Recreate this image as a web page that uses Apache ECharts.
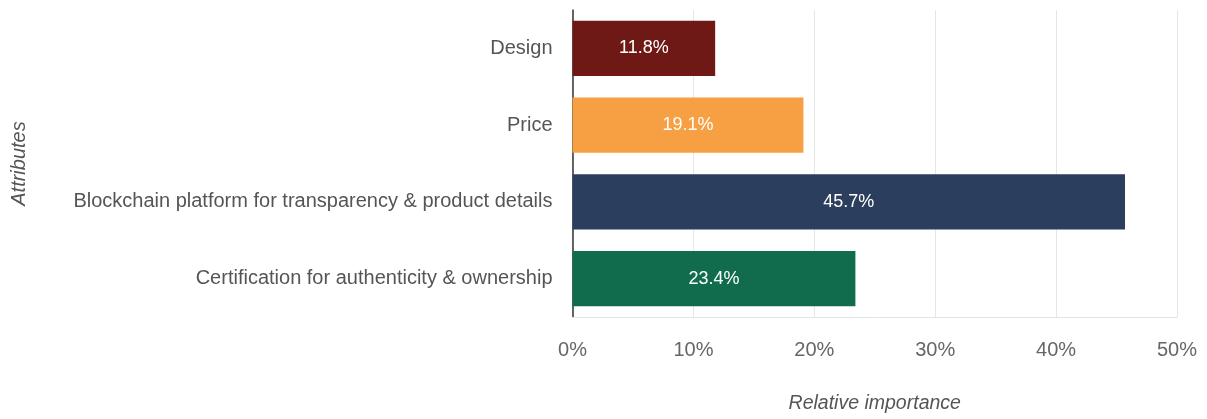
<!DOCTYPE html>
<html><head><meta charset="utf-8">
<script src="https://cdn.jsdelivr.net/npm/echarts@6/dist/echarts.min.js"></script>
<style>html,body{margin:0;padding:0;background:#fff}#c{width:1207px;height:419px}</style>
</head><body><div id="c"></div>
<script>
const categories = ["Design", "Price", "Blockchain platform for transparency & product details", "Certification for authenticity & ownership"];
const values = [11.8, 19.1, 45.7, 23.4];
const colors = ["#6e1916", "#f7a043", "#2c3e5d", "#106c4d"];
const xTicks = [0, 10, 20, 30, 40, 50];

const chart = echarts.init(document.getElementById('c'));
chart.setOption({
  animation: false,
  textStyle: { fontFamily: "Liberation Sans, Arial, sans-serif" },
  grid: { left: 572.5, right: 30, top: 10, bottom: 102, containLabel: false },
  xAxis: {
    type: 'value', min: xTicks[0], max: xTicks[xTicks.length - 1], interval: 10,
    name: 'Relative importance', nameLocation: 'middle', nameGap: 77,
    nameTextStyle: { fontStyle: 'italic', fontSize: 19.5, color: '#555' },
    axisLine: { show: true, lineStyle: { color: '#e3e3e3' } },
    axisTick: { show: false },
    axisLabel: { formatter: v => v + '%', fontSize: 20, color: '#666', margin: 23 },
    splitLine: { show: true, lineStyle: { color: '#e6e6e6' } }
  },
  yAxis: {
    type: 'category', data: categories, inverse: true,
    name: 'Attributes', nameLocation: 'middle', nameGap: 543,
    nameTextStyle: { fontStyle: 'italic', fontSize: 20, color: '#555' },
    axisLine: { show: true, lineStyle: { color: '#333', width: 1.5 } },
    axisTick: { show: false },
    axisLabel: { fontSize: 20, color: '#555', margin: 20 }
  },
  series: [{
    type: 'bar',
    data: values.map((v, i) => ({ value: v, itemStyle: { color: colors[i] } })),
    barCategoryGap: '28%',
    label: { show: true, position: 'inside', formatter: p => p.value.toFixed(1) + '%', color: '#fff', fontSize: 18 }
  }]
});
</script></body></html>
